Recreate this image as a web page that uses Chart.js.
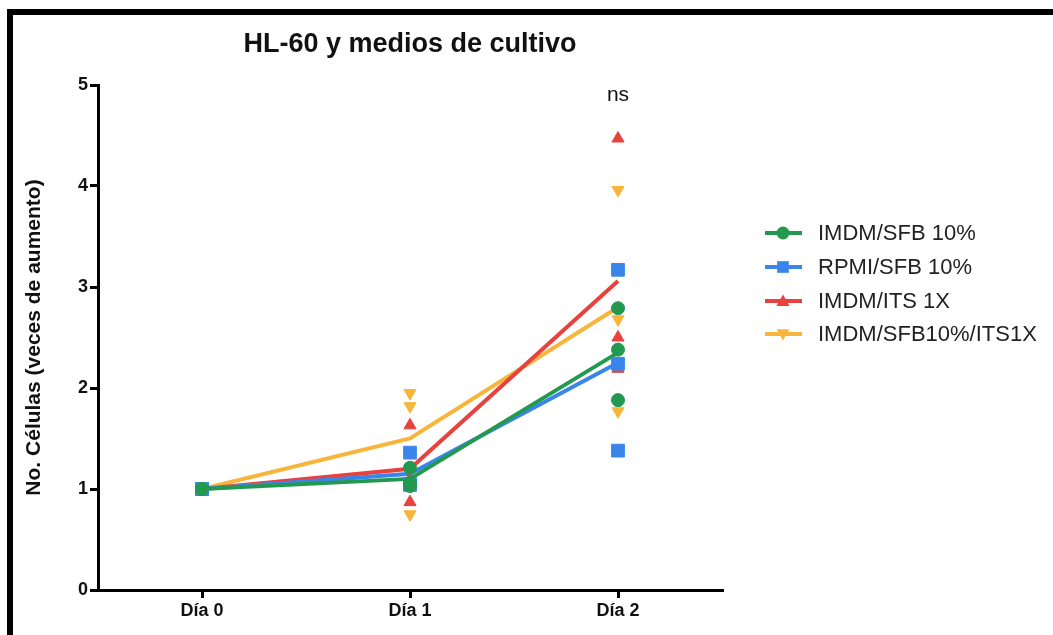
<!DOCTYPE html>
<html>
<head>
<meta charset="utf-8">
<title>HL-60 y medios de cultivo</title>
<script src="https://cdn.jsdelivr.net/npm/chart.js@4.4.1/dist/chart.umd.min.js"></script>
<style>
  html, body { margin: 0; padding: 0; background: #ffffff; }
  canvas { display: block; }
</style>
</head>
<body>
<canvas id="chart" width="1053" height="635"></canvas>
<script>
// Categories and axis ticks
const days = ['Día 0', 'Día 1', 'Día 2'];
const yTicks = [0, 1, 2, 3, 4, 5];
const seriesNames = ['IMDM/SFB 10%', 'RPMI/SFB 10%', 'IMDM/ITS 1X', 'IMDM/SFB10%/ITS1X'];

// Mean fold increase per day (connecting lines)
const meanImdmSfb = [1.00, 1.10, 2.35];
const meanRpmiSfb = [1.00, 1.15, 2.25];
const meanImdmIts = [1.00, 1.20, 3.06];
const meanImdmSfbIts = [1.00, 1.50, 2.80];

// Individual replicates per day (markers)
const repImdmSfb = [[1.00, 1.00, 1.00], [1.21, 1.06, 1.03], [2.79, 2.38, 1.88]];
const repRpmiSfb = [[1.00, 1.00, 1.00], [1.36, 1.05, 1.04], [3.17, 2.24, 1.38]];
const repImdmIts = [[1.00, 1.00, 1.00], [1.63, 1.10, 0.87], [4.47, 2.50, 2.19]];
const repImdmSfbIts = [[1.00, 1.00, 1.00], [1.95, 1.82, 0.75], [3.96, 2.68, 1.77]];

const colors = ['#23994f', '#3a85ea', '#e8423f', '#f8b53b'];
const markers = ['circle', 'rect', 'triangle', 'triangleDown'];
const markerRadius = { circle: 6.5, rect: 9, triangle: 7, triangleDown: 7 };
const means = [meanImdmSfb, meanRpmiSfb, meanImdmIts, meanImdmSfbIts];
const reps = [repImdmSfb, repRpmiSfb, repImdmIts, repImdmSfbIts];

const FONT = '"Liberation Sans", Arial, Helvetica, sans-serif';

function repPoints(r) {
  const pts = [];
  r.forEach((vals, i) => vals.forEach(v => pts.push({ x: days[i], y: v })));
  return pts;
}

const datasets = [];
seriesNames.forEach((name, i) => {
  const isDown = markers[i] === 'triangleDown';
  datasets.push({
    label: name,
    type: 'line',
    data: repPoints(reps[i]),
    showLine: false,
    pointStyle: isDown ? 'triangle' : markers[i],
    rotation: isDown ? 180 : 0,
    pointRadius: markerRadius[markers[i]],
    pointBackgroundColor: colors[i],
    pointBorderColor: colors[i],
    pointBorderWidth: 1,
    order: i,
    clip: false
  });
});
seriesNames.forEach((name, i) => {
  datasets.push({
    label: name + ' (media)',
    type: 'line',
    data: means[i],
    borderColor: colors[i],
    borderWidth: 4,
    pointRadius: 0,
    fill: false,
    tension: 0,
    order: 10 + i,
    clip: false
  });
});

function drawMarker(ctx, style, x, y, r, color) {
  ctx.save();
  ctx.fillStyle = color;
  ctx.beginPath();
  if (style === 'circle') {
    ctx.arc(x, y, r, 0, Math.PI * 2);
  } else if (style === 'rect') {
    ctx.rect(x - r * 0.9, y - r * 0.9, r * 1.8, r * 1.8);
  } else if (style === 'triangle') {
    ctx.moveTo(x, y - r);
    ctx.lineTo(x + r, y + r * 0.75);
    ctx.lineTo(x - r, y + r * 0.75);
    ctx.closePath();
  } else {
    ctx.moveTo(x, y + r);
    ctx.lineTo(x + r, y - r * 0.75);
    ctx.lineTo(x - r, y - r * 0.75);
    ctx.closePath();
  }
  ctx.fill();
  ctx.restore();
}

// Frame, title, significance label and legend
const decorations = {
  id: 'decorations',
  beforeDraw(chart) {
    const ctx = chart.ctx;
    ctx.save();
    ctx.fillStyle = '#ffffff';
    ctx.fillRect(0, 0, chart.width, chart.height);
    ctx.restore();
  },
  afterDraw(chart) {
    const ctx = chart.ctx;
    const area = chart.chartArea;
    const xs = chart.scales.x;
    ctx.save();
    // frame
    ctx.fillStyle = '#000000';
    ctx.fillRect(7, 9, chart.width - 7, 6);
    ctx.fillRect(7, 9, 6, chart.height - 9);

    // title
    ctx.fillStyle = '#111111';
    ctx.textAlign = 'center';
    ctx.textBaseline = 'alphabetic';
    ctx.font = 'bold 27px ' + FONT;
    ctx.fillText('HL-60 y medios de cultivo', (area.left + area.right) / 2, 52);

    // significance
    ctx.font = '21px ' + FONT;
    ctx.fillText('ns', xs.getPixelForValue(2), 101);

    // legend
    ctx.textAlign = 'left';
    ctx.textBaseline = 'middle';
    ctx.font = '22px ' + FONT;
    const rowY = [233, 267, 301, 334];
    seriesNames.forEach((name, i) => {
      const y = rowY[i];
      ctx.strokeStyle = colors[i];
      ctx.lineWidth = 4;
      ctx.beginPath();
      ctx.moveTo(765, y);
      ctx.lineTo(802, y);
      ctx.stroke();
      drawMarker(ctx, markers[i], 783, y, 6.5, colors[i]);
      ctx.fillStyle = '#222222';
      ctx.fillText(name, 818, y + 1);
    });
    ctx.restore();
  }
};

new Chart(document.getElementById('chart'), {
  type: 'line',
  data: { labels: days, datasets },
  options: {
    responsive: false,
    animation: false,
    devicePixelRatio: 1,
    layout: { padding: { top: 85, right: 331, left: 0, bottom: 0 } },
    plugins: {
      legend: { display: false },
      title: { display: false },
      tooltip: { enabled: false }
    },
    scales: {
      x: {
        type: 'category',
        labels: days,
        offset: true,
        grid: { display: true, drawOnChartArea: false, drawTicks: true, tickLength: 8, lineWidth: 3, color: '#000000', offset: false },
        border: { display: true, color: '#000000', width: 3 },
        ticks: { color: '#111111', font: { family: FONT, size: 18, weight: 'bold' }, padding: 2, maxRotation: 0 },
        afterFit(scale) { scale.height = 45; }
      },
      y: {
        min: 0,
        max: 5,
        afterBuildTicks(scale) { scale.ticks = yTicks.map(v => ({ value: v })); },
        grid: { display: true, drawOnChartArea: false, drawTicks: true, tickLength: 8, lineWidth: 3, color: '#000000' },
        border: { display: true, color: '#000000', width: 3 },
        ticks: { color: '#111111', font: { family: FONT, size: 18, weight: 'bold' }, padding: 2 },
        title: {
          display: true,
          text: 'No. Células (veces de aumento)',
          color: '#111111',
          font: { family: FONT, size: 21, weight: 'bold' },
          padding: { top: 22, bottom: 0 }
        },
        afterFit(scale) { scale.width = 98; }
      }
    }
  },
  plugins: [decorations]
});
</script>
</body>
</html>
